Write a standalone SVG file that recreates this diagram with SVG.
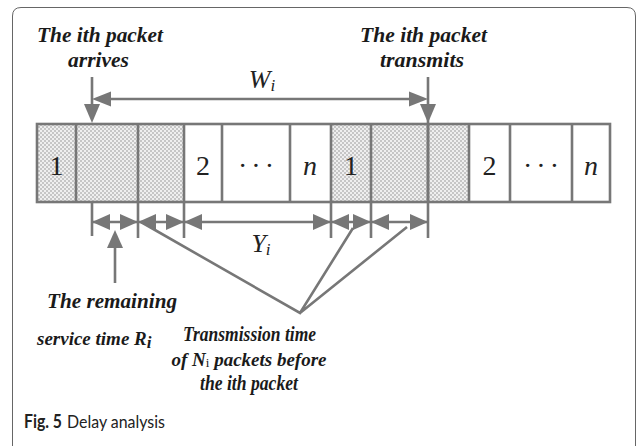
<svg xmlns="http://www.w3.org/2000/svg" width="637" height="446" viewBox="0 0 637 446">
<style>
.lbl{font-family:"Liberation Serif",serif;font-weight:bold;font-style:italic;font-size:22px;fill:#1a1a1a;text-anchor:middle}
.st{text-anchor:start}
.num{font-family:"Liberation Serif",serif;font-size:28px;fill:#222;text-anchor:middle}
.var{font-family:"Liberation Serif",serif;font-style:italic;font-size:26px;fill:#222;text-anchor:middle}
.ln{stroke:#777;stroke-width:2.6;fill:none}
.tk{stroke:#777;stroke-width:2.6}
.hd{fill:#777}
.cap{font-family:"Lato","Open Sans",sans-serif;font-size:18px;fill:#222}
</style>
<defs>
<pattern id="chk" width="4" height="4" patternUnits="userSpaceOnUse">
<rect width="4" height="4" fill="#efefef"/>
<rect width="2" height="2" fill="#c6c6c6"/>
<rect x="2" y="2" width="2" height="2" fill="#c6c6c6"/>
</pattern>
</defs>
<rect width="637" height="446" fill="#fff"/>
<path d="M12.5,460 V16 Q12.5,7.5 21,7.5 H627 Q635.5,7.5 635.5,16 V460" fill="none" stroke="#666" stroke-width="1"/>

<g id="bar">
<rect x="37" y="124" width="39" height="78" fill="url(#chk)"/>
<rect x="76" y="124" width="62" height="78" fill="url(#chk)"/>
<rect x="138" y="124" width="46" height="78" fill="url(#chk)"/>
<rect x="331" y="124" width="40" height="78" fill="url(#chk)"/>
<rect x="371" y="124" width="57" height="78" fill="url(#chk)"/>
<rect x="428" y="124" width="41" height="78" fill="url(#chk)"/>
<rect x="37" y="124" width="573" height="78" class="ln"/>
<path class="tk" d="M76,124V202M138,124V202M184,124V202M222,124V202M290,124V202M331,124V202M371,124V202M428,124V202M469,124V202M510,124V202M572,124V202"/>
<text class="num" x="56.5" y="175">1</text>
<text class="num" x="203" y="175">2</text>
<text class="num" x="258" y="175" letter-spacing="4">···</text>
<text class="num" x="310" y="175" font-style="italic">n</text>
<text class="num" x="351" y="175">1</text>
<text class="num" x="489.5" y="175">2</text>
<text class="num" x="543" y="175" letter-spacing="4">···</text>
<text class="num" x="591" y="175" font-style="italic">n</text>
</g>

<g id="arrive">
<text class="lbl" x="100" y="42" textLength="126" lengthAdjust="spacingAndGlyphs">The ith packet</text>
<text class="lbl" x="98.5" y="67" textLength="61" lengthAdjust="spacingAndGlyphs">arrives</text>
</g>
<g id="transmit">
<text class="lbl" x="423.5" y="42" textLength="127" lengthAdjust="spacingAndGlyphs">The ith packet</text>
<text class="lbl" x="422" y="67" textLength="84" lengthAdjust="spacingAndGlyphs">transmits</text>
</g>
<g id="w-label">
<text class="var" x="262" y="88">W<tspan font-size="17" dy="3">i</tspan></text>
</g>
<g id="y-label">
<text class="var" x="261" y="252">Y<tspan font-size="17" dy="3">i</tspan></text>
</g>
<g id="remaining">
<text class="lbl" x="112" y="308" textLength="130" lengthAdjust="spacingAndGlyphs">The remaining</text>
<text class="lbl st" x="37" y="345" style="font-size:19px">service time R<tspan style="font-size:17px" dy="3">i</tspan></text>
</g>
<g id="transmission">
<text class="lbl" x="249.5" y="341" textLength="133" lengthAdjust="spacingAndGlyphs">Transmission time</text>
<text class="lbl" x="249" y="366" style="font-size:19px">of N<tspan style="font-size:13px;font-style:normal;font-weight:normal" dy="1">i</tspan><tspan dy="-1"> packets before</tspan></text>
<text class="lbl" x="249" y="390" textLength="98" lengthAdjust="spacingAndGlyphs">the ith packet</text>
</g>

<g id="connectors">
<path class="tk" d="M92,77V105"/>
<polygon class="hd" points="92,123 84,104 100,104"/>
<path class="tk" d="M428,77V238"/>
<polygon class="hd" points="428,123 420,104 436,104"/>
<path class="tk" d="M108,99H412"/>
<polygon class="hd" points="92,99 111,91.5 111,106.5"/>
<polygon class="hd" points="428,99 409,91.5 409,106.5"/>
<path class="tk" d="M92,202V236M138,202V238M184,202V238M331,202V238M371,202V238"/>
<path class="tk" d="M92,222H138M138,222H184M184,222H331M331,222H371M371,222H428"/>
<polygon class="hd" points="92,222 110,214 110,230"/>
<polygon class="hd" points="138,222 120,214 120,230"/>
<polygon class="hd" points="138,222 156,214 156,230"/>
<polygon class="hd" points="184,222 166,214 166,230"/>
<polygon class="hd" points="184,222 202,214 202,230"/>
<polygon class="hd" points="331,222 313,214 313,230"/>
<polygon class="hd" points="331,222 349,214 349,230"/>
<polygon class="hd" points="371,222 353,214 353,230"/>
<polygon class="hd" points="371,222 389,214 389,230"/>
<polygon class="hd" points="428,222 410,214 410,230"/>
<path class="tk" d="M115,246V283"/>
<polygon class="hd" points="115,230 107,248 123,248"/>
<path class="ln" d="M141,222L300,313L353,228M300,313L407,227"/>
</g>

<g id="caption">
<text class="cap" x="24" y="428" font-weight="bold" textLength="38" lengthAdjust="spacingAndGlyphs">Fig. 5</text>
<text class="cap" x="67" y="428" textLength="98" lengthAdjust="spacingAndGlyphs">Delay analysis</text>
</g>
</svg>
